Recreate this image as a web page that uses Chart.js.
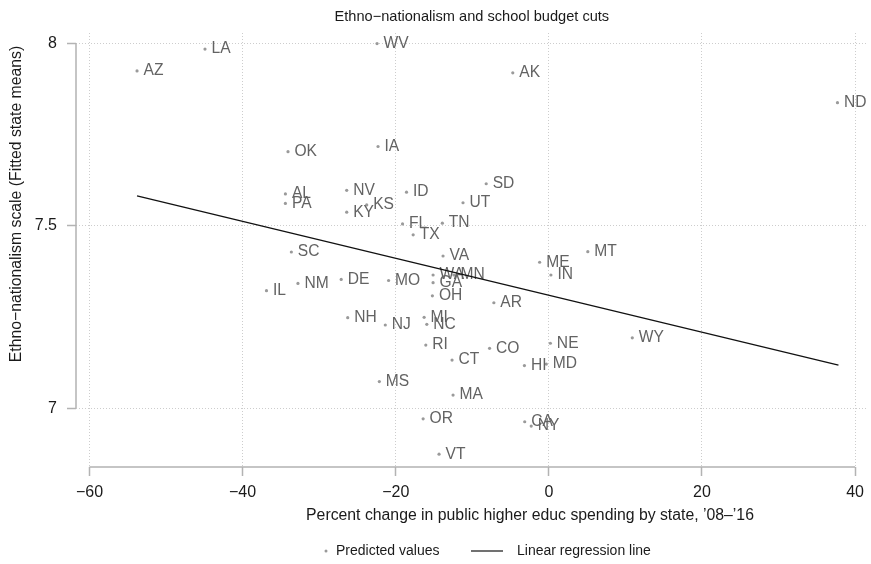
<!DOCTYPE html>
<html>
<head>
<meta charset="utf-8">
<script src="https://cdn.jsdelivr.net/npm/chart.js@4.4.1/dist/chart.umd.min.js"></script>
<style>
  html, body { margin: 0; padding: 0; background: #fff; }
  #wrap { width: 871px; height: 564px; position: relative; }
</style>
</head>
<body>
<div id="wrap"><canvas id="c" width="871" height="564"></canvas></div>
<script>
// State abbreviations and their values
const states = ["AZ","LA","WV","AK","ND","IA","OK","AL","PA","NV","KY","KS","ID","SD","UT","FL","TX","TN",
  "SC","VA","ME","MT","IN","NM","DE","MO","WA","MN","GA","OH","AR","IL","NH","NJ","MI","NC","RI","CO",
  "CT","NE","WY","HI","MD","MS","MA","OR","CA","NY","VT"];
// Percent change in public higher education spending, 2008-2016
const spendChange = [-53.79,-44.91,-22.44,-4.71,37.70,-22.31,-34.07,-34.41,-34.41,-26.40,-26.40,-23.79,-18.59,-8.18,-11.21,-19.11,-17.72,-13.91,
  -33.63,-13.82,-1.20,5.09,0.27,-32.77,-27.12,-20.93,-15.12,-12.40,-15.12,-15.21,-7.18,-36.88,-26.27,-21.36,-16.29,-15.94,-16.07,-7.74,
  -12.64,0.20,10.90,-3.19,-0.33,-22.14,-12.51,-16.42,-3.15,-2.30,-14.34];
// Fitted state means of the ethno-nationalism scale
const ethnoScale = [7.924,7.984,7.999,7.919,7.837,7.717,7.703,7.587,7.561,7.597,7.537,7.557,7.592,7.615,7.563,7.505,7.475,7.507,
  7.428,7.417,7.400,7.429,7.365,7.342,7.353,7.350,7.365,7.365,7.344,7.308,7.289,7.322,7.248,7.228,7.249,7.230,7.173,7.164,
  7.132,7.178,7.193,7.117,7.121,7.073,7.036,6.971,6.963,6.951,6.874];
// Regression line end points
const fitX = [-53.79, 37.83];
const fitY = [7.582, 7.118];
// Axis ticks
const xTicks = [-60, -40, -20, 0, 20, 40];
const yTicks = [7, 7.5, 8];
const yTickLabels = ["7", "7.5", "8"];

const FONT = '"Liberation Sans", Arial, Helvetica, sans-serif';
const MINUS = "\u2212";

const scatterPts = states.map((s, i) => ({ x: spendChange[i], y: ethnoScale[i] }));
const linePts = fitX.map((x, i) => ({ x: x, y: fitY[i] }));

const decor = {
  id: 'decor',
  afterDatasetDraw(chart, args) {
    if (args.index !== 0) return;
    const ctx = chart.ctx;
    const meta = chart.getDatasetMeta(0);
    ctx.save();
    ctx.font = '15.6px ' + FONT;
    ctx.fillStyle = '#636363';
    ctx.textAlign = 'left';
    ctx.textBaseline = 'middle';
    meta.data.forEach((el, i) => {
      ctx.fillText(states[i], el.x + 6.5, el.y);
    });
    ctx.restore();
  },
  afterDraw(chart) {
    const ctx = chart.ctx;
    const xs = chart.scales.x, ys = chart.scales.y;
    const area = chart.chartArea;
    ctx.save();
    // axis lines spanning the tick range
    ctx.strokeStyle = '#b3b3b3';
    ctx.lineWidth = 1.5;
    ctx.beginPath();
    ctx.moveTo(xs.getPixelForValue(xTicks[0]), area.bottom);
    ctx.lineTo(xs.getPixelForValue(xTicks[xTicks.length - 1]), area.bottom);
    ctx.moveTo(area.left, ys.getPixelForValue(yTicks[0]));
    ctx.lineTo(area.left, ys.getPixelForValue(yTicks[yTicks.length - 1]));
    ctx.stroke();

    ctx.fillStyle = '#1a1a1a';
    ctx.textBaseline = 'middle';
    // title
    ctx.font = '14.6px ' + FONT;
    ctx.textAlign = 'center';
    ctx.fillText('Ethno' + MINUS + 'nationalism and school budget cuts', (area.left + area.right) / 2, 17);
    // x axis title
    ctx.font = '15.8px ' + FONT;
    ctx.fillText('Percent change in public higher educ spending by state, \u201908\u2013\u201916', 530, 516);
    // y axis title
    ctx.save();
    ctx.translate(17, 204);
    ctx.rotate(-Math.PI / 2);
    ctx.fillText('Ethno' + MINUS + 'nationalism scale (Fitted state means)', 0, 0);
    ctx.restore();

    // legend
    const ly = 551;
    ctx.fillStyle = '#999999';
    ctx.beginPath();
    ctx.arc(326, ly, 1.5, 0, Math.PI * 2);
    ctx.fill();
    ctx.fillStyle = '#1a1a1a';
    ctx.textAlign = 'left';
    ctx.font = '14px ' + FONT;
    ctx.fillText('Predicted values', 336, ly);
    ctx.strokeStyle = '#111';
    ctx.lineWidth = 1.2;
    ctx.beginPath();
    ctx.moveTo(471, ly);
    ctx.lineTo(503, ly);
    ctx.stroke();
    ctx.fillText('Linear regression line', 517, ly);
    ctx.restore();
  }
};

const gridOpts = {
  color: '#cdcdcd',
  lineWidth: 1,
  drawTicks: true,
  tickLength: 9,
  tickColor: '#b3b3b3',
  tickWidth: 1.5,
  tickBorderDash: []
};

new Chart(document.getElementById('c'), {
  type: 'scatter',
  data: {
    datasets: [
      {
        label: 'Predicted values',
        data: scatterPts,
        pointRadius: 1.6,
        pointHoverRadius: 1.6,
        pointBackgroundColor: '#9a9a9a',
        pointBorderWidth: 0,
        showLine: false,
        order: 2
      },
      {
        label: 'Linear regression line',
        type: 'line',
        data: linePts,
        borderColor: '#111111',
        borderWidth: 1.3,
        pointRadius: 0,
        fill: false,
        tension: 0,
        order: 1
      }
    ]
  },
  options: {
    responsive: false,
    animation: false,
    events: [],
    layout: { padding: { top: 33, right: 1, left: 0, bottom: 0 } },
    plugins: { legend: { display: false }, title: { display: false }, tooltip: { enabled: false } },
    scales: {
      x: {
        type: 'linear',
        min: -61.76,
        max: 41.65,
        afterBuildTicks(scale) { scale.ticks = xTicks.map(v => ({ value: v })); },
        afterFit(scale) { scale.height = 97; },
        border: { display: false, dash: [1, 2] },
        grid: gridOpts,
        ticks: {
          padding: 7,
          color: '#1a1a1a',
          font: { family: FONT, size: 16 },
          maxRotation: 0,
          callback: v => (v < 0 ? MINUS + Math.abs(v) : String(v))
        }
      },
      y: {
        type: 'linear',
        min: 6.839,
        max: 8.028,
        afterBuildTicks(scale) { scale.ticks = yTicks.map(v => ({ value: v })); },
        afterFit(scale) { scale.width = 76; },
        border: { display: false, dash: [1, 2] },
        grid: gridOpts,
        ticks: {
          padding: 10,
          color: '#1a1a1a',
          font: { family: FONT, size: 16 },
          callback: (v, i) => yTickLabels[yTicks.indexOf(v)]
        }
      }
    }
  },
  plugins: [decor]
});
</script>
</body>
</html>
